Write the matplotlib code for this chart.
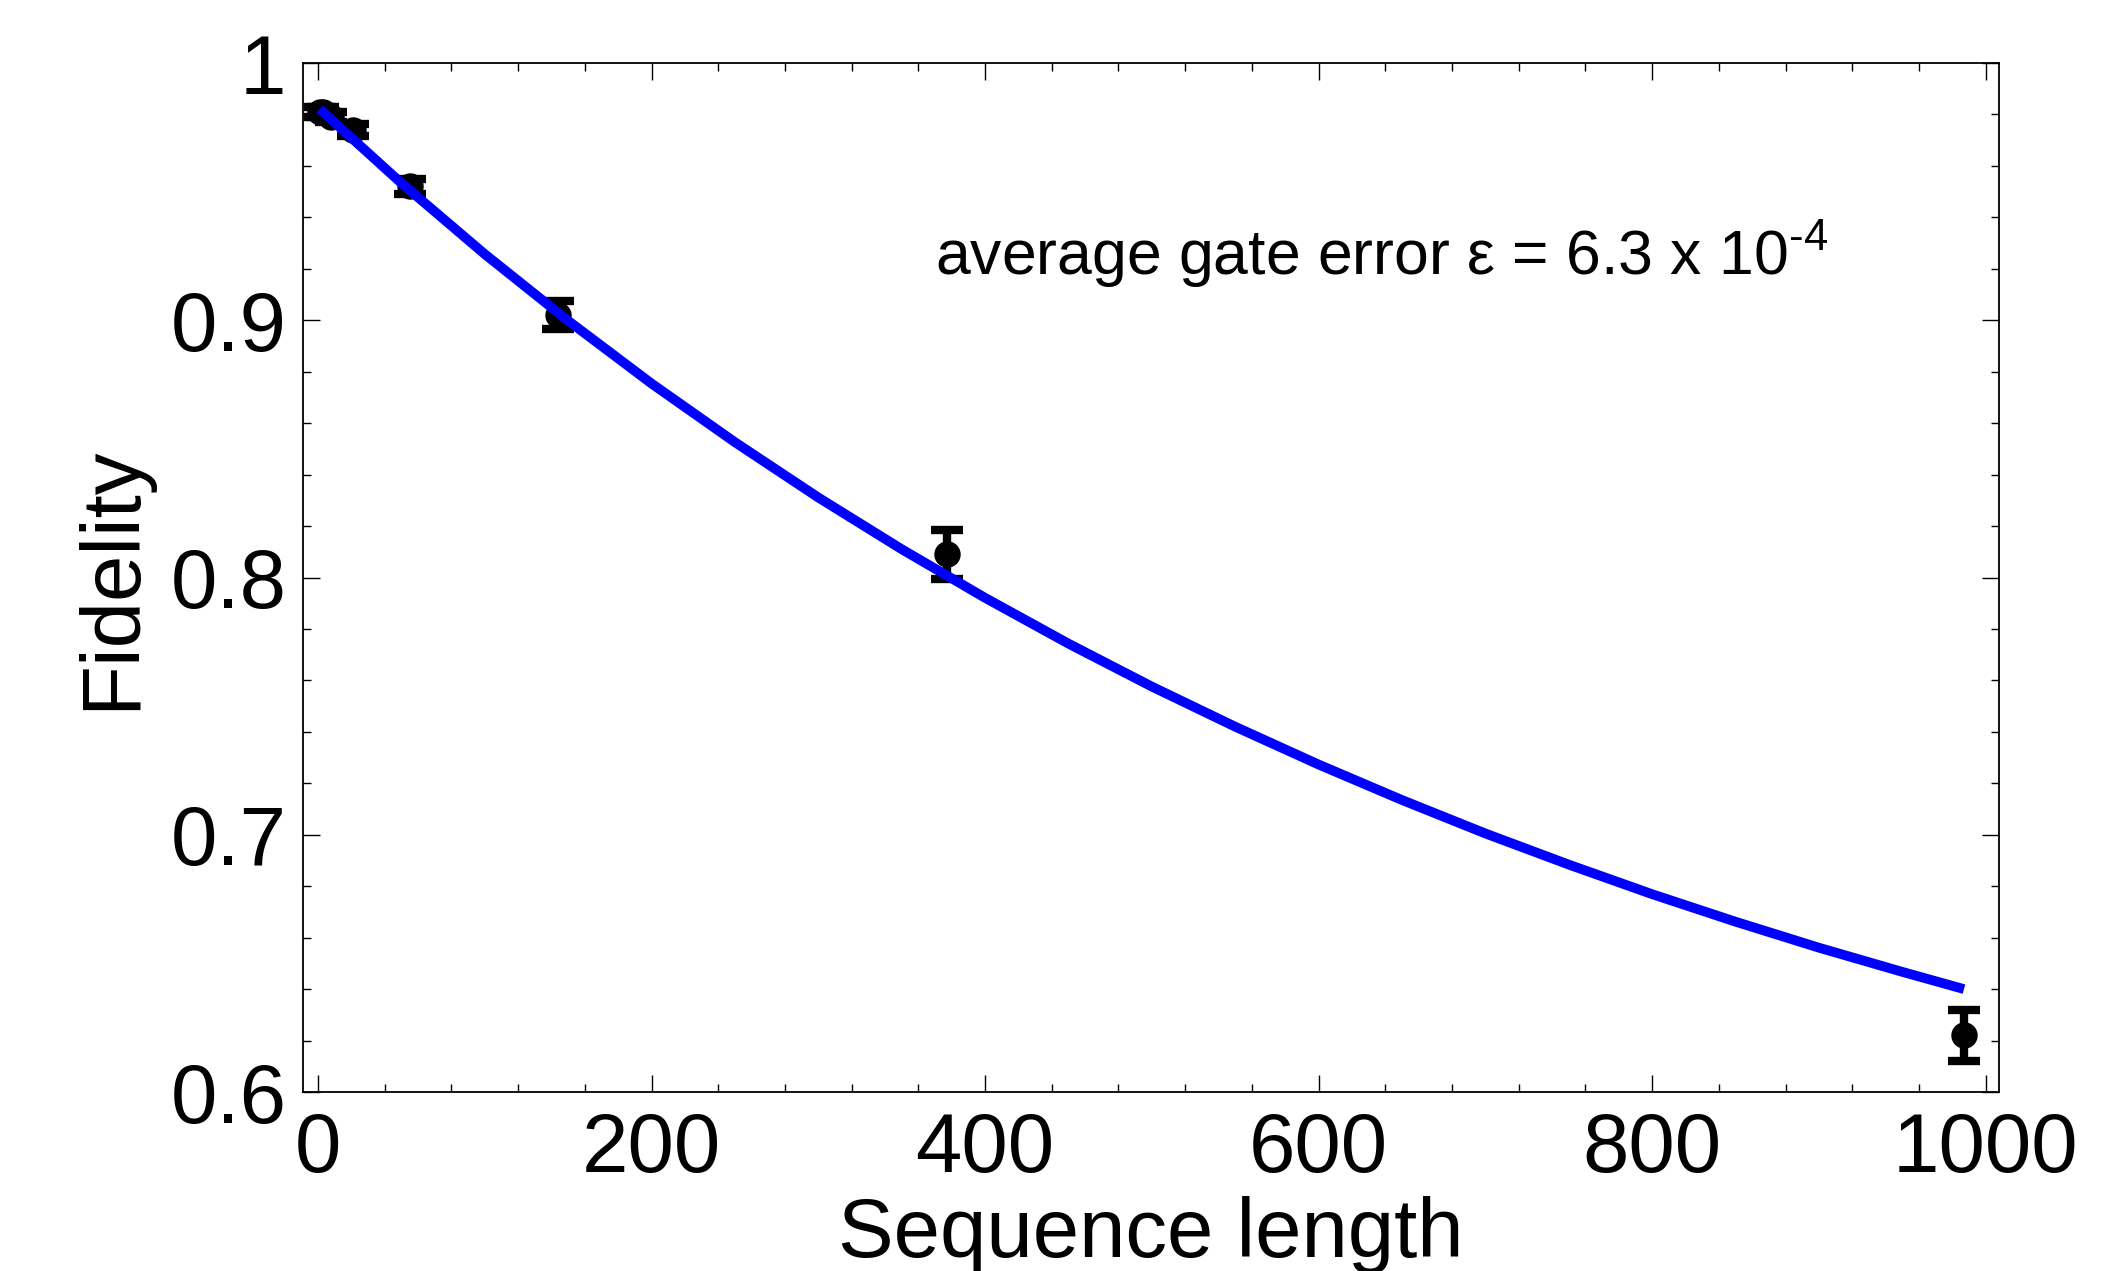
import matplotlib
matplotlib.use("Agg")
import matplotlib.pyplot as plt
from matplotlib.ticker import MultipleLocator

plt.rcParams['font.family'] = ['Liberation Sans', 'DejaVu Sans']
plt.rcParams['mathtext.fontset'] = 'custom'
plt.rcParams['mathtext.rm'] = 'Liberation Sans'
plt.rcParams['mathtext.default'] = 'regular'

# Measured data (sequence length, fidelity, error)
seq_len = [1, 3, 8, 21, 55, 144, 377, 987]
fidelity = [0.981, 0.981, 0.979, 0.974, 0.952, 0.902, 0.809, 0.622]
fid_err = [0.002, 0.002, 0.002, 0.0023, 0.0031, 0.0054, 0.0095, 0.010]

# Fit curve
fit_len = [1, 50, 100, 150, 200, 250, 300, 350, 400, 450, 500,
           550, 600, 650, 700, 750, 800, 850, 900, 950, 987]
fit_fid = [0.9821, 0.9533, 0.9257, 0.8998, 0.8754, 0.8526, 0.8311, 0.8110,
           0.7921, 0.7743, 0.7576, 0.7420, 0.7273, 0.7135, 0.7005, 0.6884,
           0.6769, 0.6662, 0.6561, 0.6467, 0.6400]

fig = plt.figure(figsize=(21.1, 12.71), dpi=100)
ax = fig.add_axes([303/2110, 1 - 1092/1271, (1999-303)/2110, (1092-63)/1271])

ax.errorbar(seq_len, fidelity, yerr=fid_err, fmt='o', color='black',
            ms=18, elinewidth=6, capsize=11.5, capthick=6, zorder=2)
ax.plot(fit_len, fit_fid, color='#0000ff', lw=7, zorder=3,
        solid_capstyle='butt')

ax.set_xlim(-9, 1008)
ax.set_ylim(0.6, 1.0)
ax.xaxis.set_major_locator(MultipleLocator(200))
ax.xaxis.set_minor_locator(MultipleLocator(40))
ax.yaxis.set_major_locator(MultipleLocator(0.1))
ax.yaxis.set_minor_locator(MultipleLocator(0.02))
ax.set_yticks([0.6, 0.7, 0.8, 0.9, 1.0])
ax.set_yticklabels(['0.6', '0.7', '0.8', '0.9', '1'])

ax.tick_params(which='both', direction='in', top=True, right=True,
               labelsize=60, width=1.0, color='black')
ax.tick_params(which='major', length=12)
ax.tick_params(which='minor', length=6)
ax.tick_params(axis='x', pad=14)
ax.tick_params(axis='y', pad=12)
for s in ax.spines.values():
    s.set_linewidth(1.3)

ax.set_xlabel('Sequence length', fontsize=60, labelpad=5)
ax.set_ylabel('Fidelity', fontsize=60, labelpad=14)

ax.text(370, 0.918, 'average gate error \u03b5 = 6.3 x 10$^{\\text{-}4}$',
        fontsize=45, ha='left', va='baseline')

fig.savefig('out.png', dpi=100)
